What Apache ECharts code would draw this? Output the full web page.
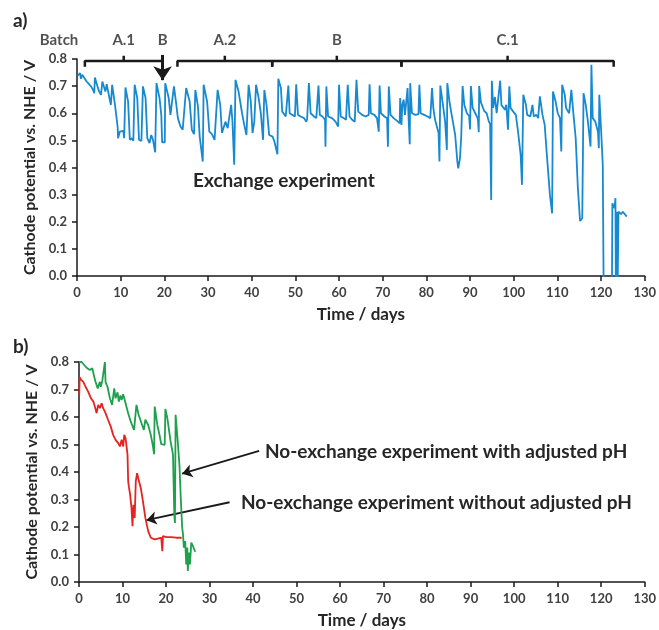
<!DOCTYPE html>
<html>
<head>
<meta charset="utf-8">
<script src="https://cdn.jsdelivr.net/npm/echarts@6/dist/echarts.min.js"></script>
<style>
  html, body { margin: 0; padding: 0; background: #fff; }
  #chart { width: 659px; height: 630px; }
</style>
</head>
<body>
<div id="chart"></div>
<script>
// a) exchange experiment
const daysA = [0.15, 0.7, 0.9, 1.2, 2.2, 3.2, 3.7, 3.95, 4.1, 4.7, 5.0, 5.5, 5.8, 6.5, 6.8, 7.5, 7.75, 8.05, 8.7, 9.3,
  9.4, 9.8, 10.2, 10.6, 10.8, 11.1, 11.7, 12.1, 12.6, 12.9, 13.2, 13.8, 14.2, 14.75, 15.1, 15.7, 16.1, 16.6, 17.0, 17.4,
  17.9, 18.2, 18.9, 19.3, 19.5, 20.1, 20.2, 21.0, 21.4, 21.7, 22.2, 22.7, 23.1, 23.7, 24.2, 24.6, 25.0, 25.8, 26.3, 26.8,
  27.1, 27.7, 28.1, 28.4, 28.8, 29.0, 29.8, 30.3, 30.9, 31.5, 31.9, 32.2, 32.8, 33.2, 33.5, 34.0, 34.5, 35.3, 35.6, 36.0,
  36.3, 37.0, 37.8, 38.3, 38.8, 39.3, 39.8, 40.2, 40.6, 41.0, 41.6, 42.1, 42.6, 42.9, 43.4, 44.0, 44.4, 44.8, 45.2, 45.5,
  45.9, 46.1, 46.7, 47.0, 47.8, 48.2, 48.4, 48.7, 49.3, 49.9, 50.2, 50.6, 51.2, 52.0, 52.5, 52.7, 53.1, 53.5, 54.3, 54.8,
  55.3, 55.6, 56.2, 56.8, 56.9, 57.1, 57.5, 58.4, 59.2, 59.8, 60.0, 60.4, 61.1, 61.6, 62.0, 62.4, 63.0, 63.6, 64.0, 64.4,
  65.3, 66.1, 66.8, 67.0, 67.3, 68.1, 68.7, 69.1, 69.3, 69.6, 70.4, 71.0, 71.2, 71.4, 71.8, 72.5, 73.3, 73.9, 74.0, 74.3,
  74.5, 74.8, 75.1, 75.4, 75.7, 75.9, 76.2, 76.3, 76.7, 77.5, 78.2, 78.4, 78.7, 79.5, 80.3, 80.9, 81.3, 81.6, 82.0, 82.8,
  83.0, 83.2, 83.8, 84.3, 84.7, 84.8, 85.3, 85.8, 86.6, 87.1, 87.3, 87.7, 88.0, 88.3, 88.7, 89.3, 89.8, 90.0, 90.2, 90.6,
  91.2, 91.8, 92.0, 92.1, 92.5, 93.2, 93.8, 94.3, 94.6, 94.85, 95.0, 95.3, 95.7, 96.1, 96.5, 96.9, 97.2, 97.6, 98.0, 98.3,
  98.7, 99.0, 99.3, 99.9, 100.5, 101.0, 101.6, 101.9, 102.2, 102.8, 103.1, 103.5, 103.8, 104.3, 104.6, 105.2, 105.6, 106.0, 106.6, 107.1,
  107.6, 108.3, 108.8, 109.0, 109.6, 110.1, 110.6, 110.9, 111.1, 111.7, 112.0, 112.7, 113.2, 113.7, 114.2, 114.7, 115.2, 115.7, 116.0, 116.5,
  117.0, 117.4, 117.6, 117.8, 118.1, 118.7, 119.3, 119.5, 119.6, 120.0, 120.4, 120.6, 122.5, 122.6, 123.1, 123.3, 123.4, 123.6, 123.8, 124.0,
  124.6, 125.0, 125.3, 125.9];
const potentialA = [0.739, 0.748, 0.727, 0.742, 0.717, 0.699, 0.686, 0.674, 0.732, 0.699, 0.683, 0.668, 0.717, 0.680, 0.707, 0.650, 0.631, 0.705, 0.631, 0.551,
  0.508, 0.532, 0.539, 0.535, 0.508, 0.695, 0.643, 0.502, 0.508, 0.498, 0.705, 0.656, 0.502, 0.498, 0.699, 0.656, 0.508, 0.490, 0.520, 0.502,
  0.456, 0.711, 0.656, 0.594, 0.493, 0.493, 0.711, 0.656, 0.594, 0.588, 0.699, 0.637, 0.582, 0.551, 0.539, 0.539, 0.693, 0.643, 0.539, 0.523,
  0.686, 0.625, 0.514, 0.508, 0.422, 0.705, 0.643, 0.532, 0.523, 0.502, 0.508, 0.686, 0.631, 0.527, 0.520, 0.569, 0.545, 0.631, 0.569, 0.410,
  0.723, 0.680, 0.600, 0.557, 0.520, 0.705, 0.643, 0.527, 0.569, 0.705, 0.656, 0.600, 0.502, 0.686, 0.631, 0.520, 0.527, 0.514, 0.496, 0.490,
  0.449, 0.727, 0.693, 0.606, 0.588, 0.594, 0.702, 0.600, 0.594, 0.588, 0.707, 0.594, 0.588, 0.582, 0.569, 0.579, 0.711, 0.600, 0.588, 0.582,
  0.702, 0.594, 0.588, 0.576, 0.477, 0.699, 0.588, 0.582, 0.569, 0.551, 0.705, 0.588, 0.582, 0.576, 0.705, 0.588, 0.576, 0.569, 0.723, 0.606,
  0.594, 0.588, 0.594, 0.707, 0.600, 0.594, 0.582, 0.532, 0.702, 0.600, 0.588, 0.582, 0.477, 0.699, 0.594, 0.582, 0.572, 0.563, 0.656, 0.557,
  0.631, 0.650, 0.594, 0.594, 0.693, 0.594, 0.486, 0.711, 0.600, 0.594, 0.597, 0.705, 0.600, 0.594, 0.588, 0.582, 0.693, 0.619, 0.576, 0.527,
  0.422, 0.702, 0.631, 0.569, 0.465, 0.711, 0.643, 0.594, 0.520, 0.422, 0.397, 0.434, 0.520, 0.700, 0.630, 0.600, 0.590, 0.540, 0.700, 0.620,
  0.600, 0.580, 0.530, 0.700, 0.640, 0.610, 0.600, 0.570, 0.560, 0.280, 0.720, 0.620, 0.660, 0.600, 0.600, 0.720, 0.630, 0.631, 0.613, 0.631,
  0.539, 0.699, 0.619, 0.606, 0.594, 0.532, 0.446, 0.336, 0.668, 0.631, 0.594, 0.600, 0.588, 0.631, 0.588, 0.594, 0.582, 0.662, 0.594, 0.557,
  0.446, 0.299, 0.231, 0.680, 0.643, 0.600, 0.582, 0.459, 0.705, 0.668, 0.619, 0.600, 0.686, 0.594, 0.508, 0.324, 0.203, 0.213, 0.674, 0.631,
  0.569, 0.576, 0.477, 0.779, 0.582, 0.569, 0.532, 0.471, 0.668, 0.545, 0.410, -0.05, -0.05, 0.268, 0.250, 0.287, -0.05, 0.237, -0.05, 0.237,
  0.228, 0.237, 0.231, 0.219];

// b) no-exchange experiments
const daysAdjusted = [0, 0.6, 1.2, 1.75, 2.1, 2.5, 2.7, 3.05, 3.5, 3.8, 4.3, 4.6, 4.8, 5.0, 5.35, 5.8, 5.95, 6.1, 6.3, 6.55,
  7.1, 7.6, 8.1, 8.4, 8.85, 9.15, 9.5, 9.8, 10.15, 10.7, 11.3, 11.9, 12.2, 12.65, 13.2, 13.7, 14.35, 14.9, 15.25, 15.9,
  16.5, 17.0, 17.25, 17.4, 18.0, 18.5, 18.9, 19.3, 19.7, 19.85, 20.3, 21.05, 21.6, 21.9, 22.05, 22.2, 22.7, 23.1, 23.4, 23.7,
  23.9, 24.1, 24.4, 24.65, 24.9, 25.0, 25.25, 25.5, 25.8, 26.2, 26.7];
const potentialAdjusted = [0.80, 0.80, 0.789, 0.779, 0.785, 0.771, 0.771, 0.777, 0.746, 0.728, 0.704, 0.719, 0.728, 0.710, 0.731, 0.731, 0.80, 0.728, 0.728, 0.710,
  0.668, 0.644, 0.704, 0.668, 0.690, 0.656, 0.678, 0.662, 0.683, 0.650, 0.614, 0.583, 0.571, 0.553, 0.644, 0.608, 0.578, 0.553, 0.590, 0.571,
  0.535, 0.493, 0.465, 0.638, 0.571, 0.535, 0.501, 0.499, 0.499, 0.629, 0.596, 0.511, 0.463, 0.245, 0.215, 0.608, 0.511, 0.420, 0.300, 0.200,
  0.173, 0.125, 0.149, 0.064, 0.125, 0.040, 0.107, 0.064, 0.143, 0.130, 0.110];
const daysUnadjusted = [0.05, 0.15, 0.5, 1.0, 1.5, 2.1, 2.75, 3.3, 3.8, 4.05, 4.4, 4.8, 5.2, 5.55, 6.1, 6.7, 7.3, 7.85, 8.4, 9.0,
  9.4, 9.8, 10.15, 10.4, 10.7, 11.15, 11.3, 11.5, 11.75, 12.05, 12.3, 12.5, 12.8, 13.05, 13.35, 13.7, 14.2, 14.7, 15.25, 15.9,
  16.5, 17.4, 18.15, 18.9, 19.15, 19.3, 20.1, 21.2, 22.35, 23.6];
const potentialUnadjusted = [0.68, 0.745, 0.735, 0.728, 0.710, 0.692, 0.668, 0.656, 0.629, 0.614, 0.644, 0.632, 0.650, 0.632, 0.614, 0.589, 0.565, 0.535, 0.517, 0.505,
  0.493, 0.517, 0.493, 0.535, 0.523, 0.463, 0.366, 0.342, 0.318, 0.270, 0.203, 0.281, 0.233, 0.366, 0.396, 0.372, 0.342, 0.293, 0.233, 0.185,
  0.161, 0.155, 0.158, 0.161, 0.112, 0.167, 0.163, 0.163, 0.161, 0.161];

// operating phases shown above panel a
const phaseNames = ['A.1', 'A.2', 'B', 'C.1'];
const phaseStart = [1.8, 23, 44.7, 74.3];
const phaseEnd = [19.6, 44.7, 74.3, 122.9];
const switchDay = 19.6;

const FONT = 'Lato';
const TEXT = '#262626';
const AXIS = '#1a1a1a';

const zip = (xs, ys) => xs.map((x, i) => [x, ys[i]]);

const makeXAxis = (gridIndex) => ({
  type: 'value', gridIndex, min: 0, max: 130, interval: 10,
  name: 'Time / days', nameLocation: 'middle', nameGap: 30,
  nameTextStyle: { fontFamily: FONT, fontWeight: 'bold', fontSize: 17, color: TEXT },
  axisLine: { lineStyle: { color: AXIS, width: 1.5 } },
  axisTick: { inside: false, length: 5, lineStyle: { color: AXIS, width: 1.5 } },
  axisLabel: { margin: 10, fontFamily: FONT, fontWeight: 'bold', fontSize: 13, color: '#404040' },
  splitLine: { show: false }
})

const makeYAxis = (gridIndex) => ({
  type: 'value', gridIndex, min: 0, max: 0.8, interval: 0.1,
  name: 'Cathode potential vs. NHE / V', nameLocation: 'middle', nameGap: 38,
  nameTextStyle: { fontFamily: FONT, fontWeight: 'bold', fontSize: 16, color: TEXT },
  axisLine: { show: true, lineStyle: { color: AXIS, width: 1.5 } },
  axisTick: { show: true, inside: false, length: 5, lineStyle: { color: AXIS, width: 1.5 } },
  axisLabel: { margin: 10, fontFamily: FONT, fontWeight: 'bold', fontSize: 13, color: '#404040',
    formatter: v => v.toFixed(1) },
  splitLine: { show: false }
})

// brackets for the phases, in data coordinates
const bracketSeries = phaseStart.map((s, i) => {
  const e = phaseEnd[i]
  const m = (s + e) / 2
  return {
    type: 'line', xAxisIndex: 0, yAxisIndex: 0, clip: false, silent: true,
    symbol: 'none', lineStyle: { color: AXIS, width: 2.5 },
    data: [[s, 0.771], [s, 0.793], [m, 0.793], [m, 0.812], [m, 0.793], [e, 0.793], [e, 0.771]]
  }
})

const labelData = [[-4.1, 0.868, 'Batch'], [switchDay, 0.868, 'B']]
  .concat(phaseNames.map((n, i) => [(phaseStart[i] + phaseEnd[i]) / 2, 0.868, n]))

const option = {
  animation: false,
  grid: [
    { left: 77, top: 59, width: 570, height: 217 },
    { left: 79, top: 362, width: 568, height: 221 }
  ],
  xAxis: [makeXAxis(0), makeXAxis(1)],
  yAxis: [makeYAxis(0), makeYAxis(1)],
  series: [
    {
      name: 'Exchange', type: 'line', xAxisIndex: 0, yAxisIndex: 0,
      symbol: 'none', lineStyle: { color: '#1689d0', width: 1.8 },
      data: zip(daysA, potentialA)
    },
    {
      name: 'Adjusted pH', type: 'line', xAxisIndex: 1, yAxisIndex: 1,
      symbol: 'none', lineStyle: { color: '#1ea04c', width: 1.8 },
      data: zip(daysAdjusted, potentialAdjusted)
    },
    {
      name: 'Without adjusted pH', type: 'line', xAxisIndex: 1, yAxisIndex: 1,
      symbol: 'none', lineStyle: { color: '#e52420', width: 1.8 },
      data: zip(daysUnadjusted, potentialUnadjusted)
    },
    ...bracketSeries,
    {
      type: 'scatter', xAxisIndex: 0, yAxisIndex: 0, clip: false, silent: true,
      symbolSize: 1, itemStyle: { color: 'transparent' },
      label: { show: true, position: 'inside', formatter: p => p.value[2],
        fontFamily: FONT, fontWeight: 'bold', fontSize: 15, color: TEXT },
      data: labelData
    },
    {
      type: 'lines', coordinateSystem: 'cartesian2d', xAxisIndex: 0, yAxisIndex: 0, clip: false, silent: true,
      symbol: ['none', 'arrow'], symbolSize: 14, lineStyle: { color: AXIS, width: 3, opacity: 1 },
      data: [{ coords: [[switchDay, 0.815], [switchDay, 0.722]] }]
    },
    {
      type: 'lines', coordinateSystem: 'cartesian2d', xAxisIndex: 1, yAxisIndex: 1, silent: true,
      symbol: ['none', 'arrow'], symbolSize: 10, lineStyle: { color: AXIS, width: 1.8, opacity: 1 },
      data: [
        { coords: [[41.4, 0.477], [23.7, 0.394]] },
        { coords: [[34.6, 0.290], [15.5, 0.225]] }
      ]
    }
  ],
  graphic: [
    { type: 'text', left: 13, top: 11, style: { text: 'a)', font: 'bold 19px ' + FONT, fill: TEXT } },
    { type: 'text', left: 13, top: 337, style: { text: 'b)', font: 'bold 19px ' + FONT, fill: TEXT } },
    { type: 'text', left: 193, top: 171, style: { text: 'Exchange experiment', font: 'bold 19px ' + FONT, fill: TEXT } },
    { type: 'text', left: 265, top: 442, style: { text: 'No-exchange experiment with adjusted pH', font: 'bold 19px ' + FONT, fill: TEXT } },
    { type: 'text', left: 241, top: 493, style: { text: 'No-exchange experiment without adjusted pH', font: 'bold 19px ' + FONT, fill: TEXT } }
  ]
}

const chart = echarts.init(document.getElementById('chart'))
chart.setOption(option)
</script>
</body>
</html>
